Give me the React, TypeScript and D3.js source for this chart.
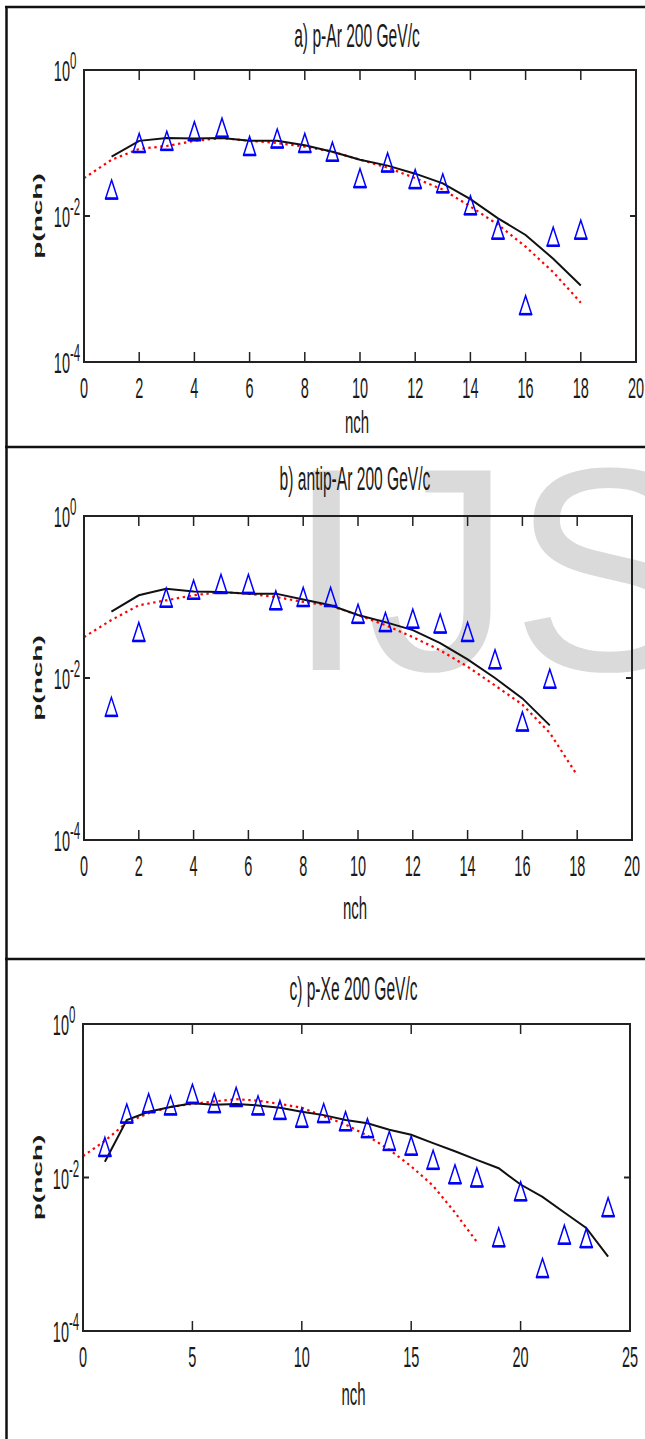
import React from "react";
import * as d3 from "d3";

// ---------- data ----------
const titles = ["a) p-Ar 200 GeV/c", "b) antip-Ar 200 GeV/c", "c) p-Xe 200  GeV/c"];
const xTicksAB = [0, 2, 4, 6, 8, 10, 12, 14, 16, 18, 20];
const xTicksC = [0, 5, 10, 15, 20, 25];
const yTickValues = [1, 0.01, 0.0001];
const yTickExponents = ["0", "-2", "-4"];

// panel a) p-Ar
const dataA = [0.023, 0.1, 0.107, 0.145, 0.162, 0.091, 0.115, 0.1, 0.076, 0.033, 0.054, 0.032, 0.028, 0.014, 0.0065, 0.0006, 0.0052, 0.0065];
const blackA = [0.065, 0.107, 0.117, 0.115, 0.117, 0.107, 0.107, 0.093, 0.076, 0.059, 0.049, 0.038, 0.028, 0.017, 0.0093, 0.0055, 0.0026, 0.00112];
const redA = [0.033, 0.059, 0.083, 0.091, 0.107, 0.117, 0.107, 0.1, 0.089, 0.076, 0.059, 0.046, 0.033, 0.023, 0.0135, 0.0076, 0.0038, 0.0017, 0.00065];

// panel b) antip-Ar
const dataB = [0.0044, 0.037, 0.098, 0.123, 0.145, 0.145, 0.091, 0.1, 0.1, 0.062, 0.049, 0.054, 0.047, 0.037, 0.017, 0.0029, 0.0098];
const blackB = [0.066, 0.105, 0.126, 0.117, 0.115, 0.11, 0.11, 0.093, 0.079, 0.06, 0.049, 0.039, 0.027, 0.017, 0.01, 0.0056, 0.0026];
const redB = [0.032, 0.052, 0.079, 0.091, 0.105, 0.115, 0.11, 0.1, 0.087, 0.078, 0.06, 0.045, 0.032, 0.022, 0.0138, 0.0081, 0.0047, 0.0021, 0.00063];

// panel c) p-Xe
const dataC = [0.025, 0.068, 0.093, 0.087, 0.123, 0.093, 0.112, 0.087, 0.076, 0.06, 0.069, 0.054, 0.044, 0.03, 0.026, 0.017, 0.011, 0.01, 0.00166, 0.0066, 0.00066, 0.0018, 0.00162, 0.0041];
const blackC = [0.016, 0.056, 0.072, 0.083, 0.093, 0.089, 0.091, 0.087, 0.081, 0.072, 0.065, 0.056, 0.051, 0.042, 0.036, 0.028, 0.022, 0.017, 0.0132, 0.0081, 0.0056, 0.0035, 0.0022, 0.00093];
const redC = [0.019, 0.03, 0.052, 0.069, 0.083, 0.091, 0.098, 0.105, 0.1, 0.091, 0.081, 0.063, 0.049, 0.035, 0.023, 0.014, 0.0078, 0.0035, 0.00145];

// ---------- layout ----------
const W = 645;
const H = 1439;
const S = 2.08; // vertical stretch of the text
const FONT = "'Liberation Sans', Arial, Helvetica, sans-serif";

type Panel = {
  title: string;
  left: number; right: number; top: number; bottom: number;
  xMax: number; xTicks: number[];
  data: number[]; black: number[]; red: number[];
  titleY: number; nchY: number;
};

const panels: Panel[] = [
  { title: titles[0], left: 84, right: 636, top: 70, bottom: 362, xMax: 20, xTicks: xTicksAB,
    data: dataA, black: blackA, red: redA, titleY: 47, nchY: 433 },
  { title: titles[1], left: 84, right: 632, top: 516, bottom: 840, xMax: 20, xTicks: xTicksAB,
    data: dataB, black: blackB, red: redB, titleY: 490, nchY: 919 },
  { title: titles[2], left: 83, right: 630, top: 1024, bottom: 1331, xMax: 25, xTicks: xTicksC,
    data: dataC, black: blackC, red: redC, titleY: 1000, nchY: 1405 },
];

function VText(props: { x: number; y: number; size: number; anchor?: string; children: any; fill?: string; weight?: any }) {
  return (
    <text
      transform={`translate(${props.x},${props.y}) scale(1,${S})`}
      fontSize={props.size}
      fontFamily={FONT}
      textAnchor={props.anchor || "start"}
      fill={props.fill || "#1a1a1a"}
      fontWeight={props.weight || "normal"}
    >
      {props.children}
    </text>
  );
}

function PanelView({ p }: { p: Panel }) {
  const x = d3.scaleLinear().domain([0, p.xMax]).range([p.left, p.right]);
  const y = d3.scaleLog().domain([1e-4, 1]).range([p.bottom, p.top]);
  const line = d3.line<[number, number]>().x((d) => x(d[0])).y((d) => y(d[1]));
  const blackPts: [number, number][] = p.black.map((v, i) => [i + 1, v]);
  const redPts: [number, number][] = p.red.map((v, i) => [i, v]);
  const cx = (p.left + p.right) / 2;
  const yMid = y(0.01);
  return (
    <g>
      {/* title */}
      <VText x={cx - 3} y={p.titleY} size={15.6} anchor="middle">{p.title}</VText>
      {/* curves */}
      <path d={line(redPts) || ""} fill="none" stroke="#ff0000" strokeWidth={2.2} strokeDasharray="2.4,3.6" />
      <path d={line(blackPts) || ""} fill="none" stroke="#111" strokeWidth={2} />
      {/* markers */}
      {p.data.map((v, i) => {
        const px = x(i + 1);
        const py = y(v);
        return (
          <g key={i}>
            <path
              d={`M${px},${py - 9.5}L${px + 6},${py + 9}L${px - 6},${py + 9}Z`}
              fill="none"
              stroke="#0000ff"
              strokeWidth={1.5}
            />
            <line x1={px - 6.5} x2={px + 6.5} y1={py + 9} y2={py + 9} stroke="#0000ff" strokeWidth={2.6} />
          </g>
        );
      })}
      {/* box */}
      <rect x={p.left} y={p.top} width={p.right - p.left} height={p.bottom - p.top} fill="none" stroke="#222" strokeWidth={2} />
      {/* x ticks */}
      {p.xTicks.map((t) => (
        <g key={"xt" + t}>
          <line x1={x(t)} x2={x(t)} y1={p.bottom} y2={p.bottom - 10} stroke="#222" strokeWidth={1.5} />
          <line x1={x(t)} x2={x(t)} y1={p.top} y2={p.top + 10} stroke="#222" strokeWidth={1.5} />
          <VText x={x(t)} y={p.bottom + 36} size={14.5} anchor="middle">{String(t)}</VText>
        </g>
      ))}
      {/* y ticks */}
      {yTickValues.map((v, i) => (
        <g key={"yt" + i}>
          <line x1={p.left} x2={p.left + 6} y1={y(v)} y2={y(v)} stroke="#222" strokeWidth={2} />
          <line x1={p.right} x2={p.right - 6} y1={y(v)} y2={y(v)} stroke="#222" strokeWidth={2} />
          <VText x={p.left - 14} y={y(v) + 11} size={14.5} anchor="end">10</VText>
          <VText x={p.left - 14} y={y(v) - 1} size={11.5} anchor="start">{yTickExponents[i]}</VText>
        </g>
      ))}
      {/* axis labels */}
      <VText x={cx - 3} y={p.nchY} size={15} anchor="middle">nch</VText>
      <text
        transform={`translate(42,${yMid}) scale(1,${S}) rotate(-90)`}
        fontSize={13.5}
        fontFamily={FONT}
        fontWeight="bold"
        textAnchor="middle"
        fill="#1a1a1a"
      >
        p(nch)
      </text>
    </g>
  );
}

export default function App() {
  return (
    <svg
      width={W}
      height={H}
      viewBox={`0 0 ${W} ${H}`}
      style={{ position: "absolute", left: 0, top: 0, background: "#fff" }}
    >
      <rect x={0} y={0} width={W} height={H} fill="#fff" />
      {/* watermark */}
      <g fill="#dadada" fontFamily={FONT} fontSize={290}>
        <text x={286} y={670}>I</text>
        <text x={367} y={670}>J</text>
        <text x={511} y={670}>S</text>
      </g>
      {/* frame */}
      <line x1={6.5} x2={6.5} y1={6} y2={H} stroke="#111" strokeWidth={2.5} />
      <line x1={5} x2={W} y1={7} y2={7} stroke="#111" strokeWidth={2.5} />
      <line x1={5} x2={W} y1={447} y2={447} stroke="#111" strokeWidth={2.5} />
      <line x1={5} x2={W} y1={959} y2={959} stroke="#111" strokeWidth={2.5} />
      {panels.map((p, i) => (
        <PanelView key={i} p={p} />
      ))}
    </svg>
  );
}
